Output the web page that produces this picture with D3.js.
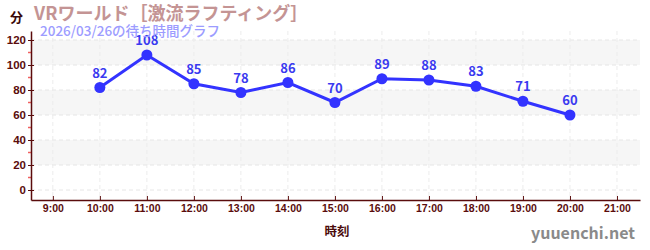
<!DOCTYPE html>
<html>
<head>
<meta charset="utf-8">
<script src="https://cdn.jsdelivr.net/npm/d3@7"></script>
<style>
  body { margin: 0; background: #fff; }
  svg { display: block; font-family: "Noto Sans CJK JP", "Noto Sans", sans-serif; }
</style>
</head>
<body>
<svg id="chart"></svg>
<script>
// data
const hours = [10, 11, 12, 13, 14, 15, 16, 17, 18, 19, 20];
const waits = [82, 108, 85, 78, 86, 70, 89, 88, 83, 71, 60];
const hourTicks = [9, 10, 11, 12, 13, 14, 15, 16, 17, 18, 19, 20, 21];
const waitTicks = [0, 20, 40, 60, 80, 100, 120];
const bands = [[20, 40], [60, 80], [100, 120]];

const width = 650, height = 250;
const svg = d3.select("#chart").attr("width", width).attr("height", height);

const margin = { top: 31, right: 10, bottom: 50, left: 31 };
const innerW = width - margin.left - margin.right;
const innerH = height - margin.top - margin.bottom;
const g = svg.append("g").attr("transform", `translate(${margin.left},${margin.top})`);

const x = d3.scaleLinear().domain([8.535, 21.49]).range([0, innerW]);
const y = d3.scaleLinear().domain([-8, 127.2]).range([innerH, 0]);

const axisColor = "#5a0c0c";

// bands
g.append("g").selectAll("rect").data(bands).join("rect")
  .attr("x", 0).attr("width", innerW)
  .attr("y", d => y(d[1])).attr("height", d => y(d[0]) - y(d[1]))
  .attr("fill", "#f6f6f6");

// grid
g.append("g").selectAll("line").data(waitTicks).join("line")
  .attr("x1", 0).attr("x2", innerW)
  .attr("y1", d => y(d)).attr("y2", d => y(d))
  .attr("stroke", "#e6e6e6").attr("stroke-dasharray", "4,3");
g.append("g").selectAll("line").data(hourTicks).join("line")
  .attr("x1", d => x(d)).attr("x2", d => x(d))
  .attr("y1", 0).attr("y2", innerH)
  .attr("stroke", "#ececec").attr("stroke-dasharray", "4,3");

// minor ticks on y axis
g.append("g").selectAll("line").data(d3.range(10, 130, 20)).join("line")
  .attr("x1", -3).attr("x2", 0)
  .attr("y1", d => y(d)).attr("y2", d => y(d))
  .attr("stroke", "#f06060").attr("stroke-width", 1.5);

// axes
const yAxis = g.append("g")
  .call(d3.axisLeft(y).tickValues(waitTicks).tickSizeInner(3).tickSizeOuter(0));
yAxis.selectAll(".tick line").attr("x2", 3).attr("x1", -3).attr("stroke", axisColor);
yAxis.select(".domain").attr("stroke", axisColor).attr("stroke-width", 1.5);
yAxis.selectAll("text").attr("fill", axisColor).attr("font-size", 11.5).attr("font-weight", 600).attr("x", -5);

const xAxis = g.append("g").attr("transform", `translate(0,${innerH})`)
  .call(d3.axisBottom(x).tickValues(hourTicks).tickFormat(d => d + ":00").tickSizeOuter(0).tickSizeInner(-4));
xAxis.selectAll(".tick line").attr("stroke", axisColor);
xAxis.select(".domain").attr("stroke", axisColor).attr("stroke-width", 1.5);
xAxis.selectAll("text").attr("fill", axisColor).attr("font-size", 10.5).attr("font-weight", 600).attr("y", 5);

// line + points
const pts = hours.map((h, i) => ({ h, v: waits[i] }));
g.append("path").datum(pts)
  .attr("fill", "none").attr("stroke", "#3333ff").attr("stroke-width", 3)
  .attr("d", d3.line().x(d => x(d.h)).y(d => y(d.v)));
g.append("g").selectAll("circle").data(pts).join("circle")
  .attr("cx", d => x(d.h)).attr("cy", d => y(d.v)).attr("r", 5.5)
  .attr("fill", "#3333ff");
g.append("g").selectAll("text").data(pts).join("text")
  .attr("x", d => x(d.h)).attr("y", d => y(d.v) - 10)
  .attr("text-anchor", "middle").attr("font-size", 13).attr("font-weight", 700)
  .attr("fill", "#3a3af0").text(d => d.v);

// titles
svg.append("text").attr("x", 10).attr("y", 22).attr("font-size", 13).attr("font-weight", 700)
  .attr("fill", "#3a0808").text("分");
svg.append("text").attr("x", 34).attr("y", 20).attr("font-size", 18).attr("font-weight", 700)
  .attr("fill", "#c49494").text("VRワールド［激流ラフティング］");
svg.append("text").attr("x", 40).attr("y", 36).attr("font-size", 13.5).attr("font-weight", 500)
  .attr("fill", "#9c9cff").text("2026/03/26の待ち時間グラフ");
svg.append("text").attr("x", 337).attr("y", 236).attr("text-anchor", "middle")
  .attr("font-size", 12.5).attr("font-weight", 700).attr("fill", "#4a0a0a").text("時刻");
svg.append("text").attr("x", 635).attr("y", 239).attr("text-anchor", "end")
  .attr("font-size", 16).attr("font-weight", 600).attr("fill", "#8a8a8a").text("yuuenchi.net");
</script>
</body>
</html>
